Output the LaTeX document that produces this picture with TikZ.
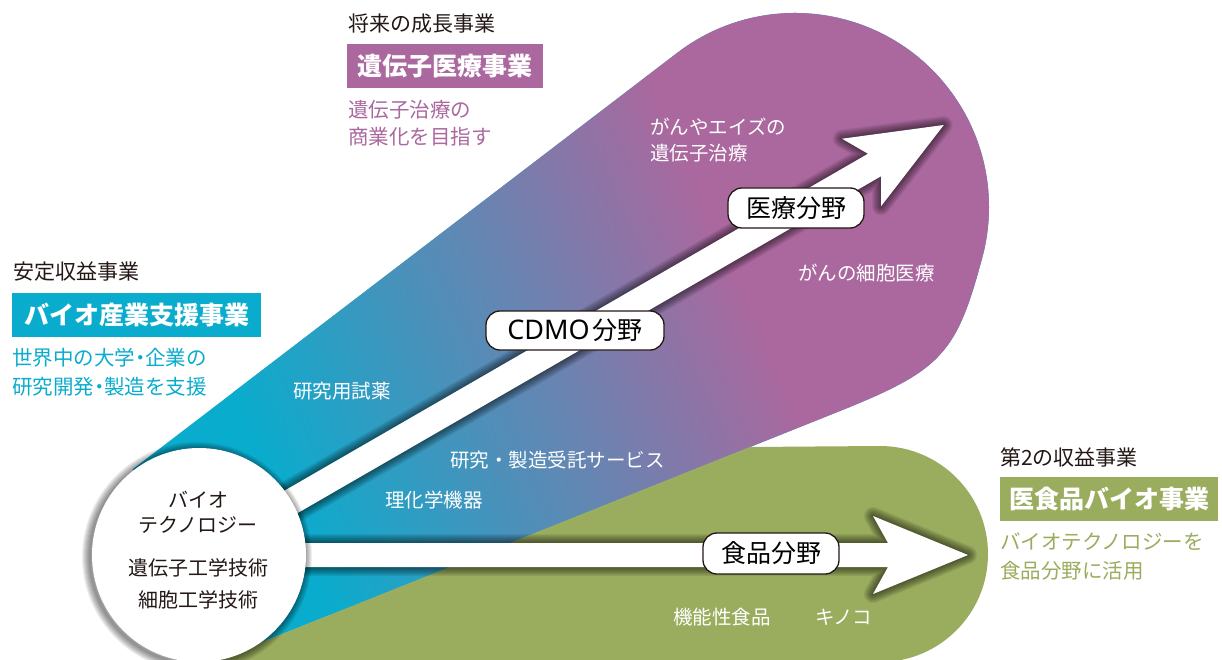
\documentclass[tikz,border=0pt]{standalone}
\usepackage{fontspec}
\setmainfont{Noto Sans CJK JP}
\newfontfamily\latinfont{Noto Sans}
\usetikzlibrary{calc}
\definecolor{cteal}{RGB}{10,172,205}
\definecolor{cpurple}{RGB}{170,104,158}
\definecolor{cgreen}{RGB}{154,172,94}
\definecolor{cdark}{RGB}{35,24,21}
\newcommand{\nd}{\hspace{-0.25em}・\hspace{-0.25em}}
\begin{document}
\begin{tikzpicture}[x=1pt,y=-1pt,
  head/.style={anchor=west, text=cdark, font=\fontsize{21}{21}\selectfont, inner sep=0},
  titlebox/.style={fill=#1, text=white, font=\fontsize{25}{25}\selectfont\bfseries, inner sep=0, anchor=center},
  desc/.style={anchor=west, text=#1, font=\fontsize{20.5}{20.5}\selectfont, inner sep=0},
  wlabel/.style={anchor=west, text=white, font=\fontsize{19.5}{19.5}\selectfont, inner sep=0},
  ctext/.style={text=cdark, font=\fontsize{20}{20}\selectfont, inner sep=0},
  fieldbox/.style={draw=cdark, line width=1.3pt, fill=white, rounded corners=14pt, inner sep=0, text=black, font=\fontsize{25}{25}\selectfont},
  glow/.style={black, opacity=0.065, line width=#1, line join=round},
]
\useasboundingbox (0,0) rectangle (1222,660);

% ---- gradient band (teal -> purple)
\path[save path=\bandp] (132.6,469.3) -- (676.1,53.7)
  arc[start angle=-127.8, end angle=15, radius=194]
  .. controls (956.5,353.8) and (942,370) .. (840,411)
  -- (190,671) -- (199,555) -- cycle;
\begin{scope}
  \clip[use path=\bandp];
  \fill[cteal] (0,-10) rectangle (1222,700);
  \shade[transform canvas={shift={(494.4,355.2)}, rotate=24}, left color=cteal, right color=cpurple] (-254,-900) rectangle (254,900);
  \fill[cpurple, transform canvas={shift={(494.4,355.2)}, rotate=24}] (253,-900) rectangle (1400,900);
\end{scope}

% ---- green region
\fill[cgreen] (750,447) -- (880,446) arc[start angle=-90, end angle=90, radius=108] -- (212,662) -- cycle;

% ---- centre of the technology circle
\coordinate (bc) at (199,555);

% ---- diagonal arrow (medical)
\begin{scope}[shift={(bc)}, rotate=30]
  \path[save path=\diagp] (0,-13) -- (780,-13) -- (765,-39) -- (860,0) -- (765,39) -- (780,13) -- (0,13) -- cycle;
  \coordinate (medtip) at (860,0);
\end{scope}
\foreach \w in {2,4,...,18} \draw[glow=\w pt, use path=\diagp];
\fill[white, use path=\diagp];

% ---- horizontal arrow (food)
\begin{scope}[shift={(bc)}]
  \path[save path=\horp] (0,-12) -- (689,-12) -- (674,-39) -- (769,0) -- (674,39) -- (689,12) -- (0,12) -- cycle;
  \coordinate (foodtip) at (769,0);
\end{scope}
\foreach \w in {2,4,...,18} \draw[glow=\w pt, use path=\horp];
\fill[white, use path=\horp];

% ---- central circle
\foreach \w in {2,4,...,16} \draw[glow=\w pt] ([xshift=-2pt,yshift=-2pt]bc) circle[radius=107];
\node[circle, fill=white, minimum size=214pt, inner sep=0] (bio) at (bc) {};
\node[ctext] (c1) at (198,500) {バイオ};
\node[ctext] (c2) at (198,525) {テクノロジー};
\node[ctext] (c3) at (198,568) {遺伝子工学技術};
\node[ctext] (c4) at (198,600) {細胞工学技術};

% ---- field labels on arrows
\node[fieldbox, minimum width=178pt, minimum height=39pt] (cdmo) at (575,330.5) {{\latinfont\fontsize{27}{27}\selectfont CDMO}\hspace{3pt}分野};
\node[fieldbox, minimum width=136pt, minimum height=40pt] (med) at (796,208) {医療分野};
\node[fieldbox, minimum width=136pt, minimum height=41pt] (food) at (771,553.5) {食品分野};

% ---- white labels in regions
\node[wlabel] (w1) at (650,127) {がんやエイズの};
\node[wlabel] (w2) at (650,153) {遺伝子治療};
\node[wlabel] (w3) at (798,273) {がんの細胞医療};
\node[wlabel] (w4) at (293,391) {研究用試薬};
\node[wlabel] (w5) at (450,460) {研究・製造受託サービス};
\node[wlabel] (w6) at (385,500) {理化学機器};
\node[wlabel] (w7) at (673,617) {機能性食品};
\node[wlabel] (w8) at (815,617) {キノコ};

% ---- business headings
\node[head] (h1) at (348,24) {将来の成長事業};
\node[titlebox=cpurple, minimum width=196pt, minimum height=44pt] (t1) at (445,66) {遺伝子医療事業};
\node[desc=cpurple] (d1a) at (348,110) {遺伝子治療の};
\node[desc=cpurple] (d1b) at (348,137) {商業化を目指す};

\node[head] (h2) at (13,272) {安定収益事業};
\node[titlebox=cteal, minimum width=249pt, minimum height=44pt] (t2) at (136.5,315) {バイオ産業支援事業};
\node[desc=cteal] (d2a) at (12,358) {世界中の大学\nd 企業の};
\node[desc=cteal] (d2b) at (12,387) {研究開発\nd 製造を支援};

\node[head] (h3) at (1000,457) {第2の収益事業};
\node[titlebox=cgreen, minimum width=218pt, minimum height=44pt] (t3) at (1109,499) {医食品バイオ事業};
\node[desc=cgreen] (d3a) at (1000,542) {バイオテクノロジーを};
\node[desc=cgreen] (d3b) at (1000,571) {食品分野に活用};
\end{tikzpicture}
\end{document}
